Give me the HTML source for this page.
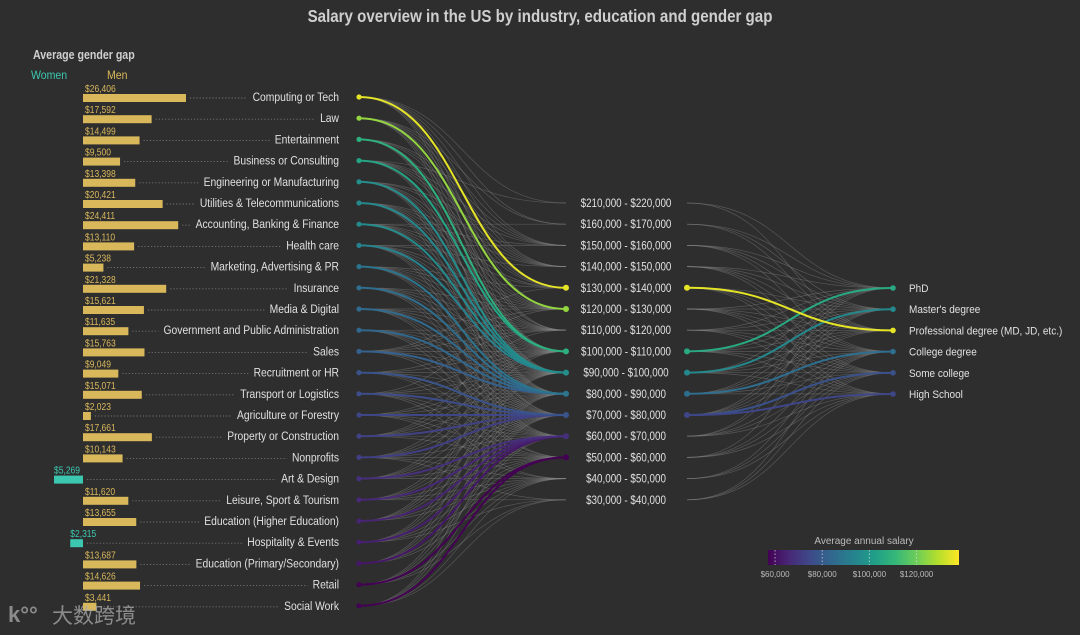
<!DOCTYPE html>
<html><head><meta charset="utf-8">
<style>
html,body{margin:0;padding:0;background:#2e2e2e;}
svg{display:block;}
text{font-family:"Liberation Sans",sans-serif;}
</style></head>
<body>
<svg id="chart" width="1080" height="635" viewBox="0 0 1080 635">
<rect width="1080" height="635" fill="#2e2e2e"/>
<text transform="translate(540,22) scale(0.84,1)" text-anchor="middle" font-size="18" font-weight="bold" fill="#cfcfcf">Salary overview in the US by industry, education and gender gap</text>
<text transform="translate(33,59) scale(0.85,1)" font-size="12.5" font-weight="bold" fill="#cfcfcf">Average gender gap</text>
<text transform="translate(31,79) scale(0.88,1)" font-size="12" fill="#3cc8b0">Women</text>
<text transform="translate(107,79) scale(0.88,1)" font-size="12" fill="#d9b85c">Men</text>
<g id="links"></g>
<g id="rows"></g>
<g id="legend">
<text x="864" y="544" text-anchor="middle" font-size="10" fill="#bbb">Average annual salary</text>
</g>
<g opacity="0.75">
<text x="8" y="622" font-size="22" font-weight="bold" fill="#aaa">k°°</text>
<text x="52" y="623" font-size="21" fill="#aaa" font-family="'Liberation Sans','Noto Sans CJK SC',sans-serif">大数跨境</text>
</g>
</svg>
<script>
const industries=["Computing or Tech","Law","Entertainment","Business or Consulting","Engineering or Manufacturing","Utilities & Telecommunications","Accounting, Banking & Finance","Health care","Marketing, Advertising & PR","Insurance","Media & Digital","Government and Public Administration","Sales","Recruitment or HR","Transport or Logistics","Agriculture or Forestry","Property or Construction","Nonprofits","Art & Design","Leisure, Sport & Tourism","Education (Higher Education)","Hospitality & Events","Education (Primary/Secondary)","Retail","Social Work"];
const genderGap=[26406,17592,14499,9500,13398,20421,24411,13110,5238,21328,15621,11635,15763,9049,15071,2023,17661,10143,-5269,11620,13655,-2315,13687,14626,3441];
const industrySalary=[135000,125000,108000,104000,97000,95000,96000,93000,88000,86000,85000,84000,82000,78000,76000,74000,73000,72000,68000,66000,65000,64000,62000,57000,55000];
const industryLinks=[[210,160,150,140,120,110,100],[160,150,140,130,110,100,90],[150,140,130,110,90,80],[210,150,140,130,120,90,80],[150,140,120,110,100,80,70],[140,130,120,110,100,80,70],[160,150,130,120,110,100,80],[150,140,120,110,100,80,70,60],[130,120,110,100,90,70,60],[120,110,100,90,70,60],[120,110,100,90,70,60,50],[110,100,90,70,60,50],[130,120,110,100,90,70,60],[110,100,90,80,60,50],[120,100,90,80,60,50,40],[100,90,80,60,50,40],[110,100,90,80,60,50],[100,90,80,60,50,40,30],[100,90,80,70,50,40],[90,80,70,60,50,40,30],[100,90,80,70,50,40],[90,80,70,60,50,40,30],[90,80,70,60,50,40],[80,70,60,50,40,30],[80,70,60,40,30]];
const buckets=[210,160,150,140,130,120,110,100,90,80,70,60,50,40,30];
const educations=["PhD","Master's degree","Professional degree (MD, JD, etc.)","College degree","Some college","High School"];
const eduSalary=[106000,95000,135000,86000,77000,74000];
const eduLinks=[[210,160,150,140,120,110,90,80,70,60],[160,150,140,130,120,110,100,80,70,60,50],[210,160,150,140,120,110,100,90,80,70],[150,140,130,120,110,100,90,70,60,50,40,30],[140,130,120,110,100,90,80,60,50,40,30],[130,120,110,100,90,80,60,50,40,30]];
const legendTicks=[60000,80000,100000,120000];

const NS="http://www.w3.org/2000/svg";
const svg=document.getElementById('chart');
const gL=document.getElementById('links'),gR=document.getElementById('rows'),gLeg=document.getElementById('legend');
function mk(t,a,p){const e=document.createElementNS(NS,t);for(const k in a)e.setAttribute(k,a[k]);(p||svg).appendChild(e);return e;}
const rowY=i=>97+i*21.2;
const bucketY=b=>203+buckets.indexOf(b)*21.2;
const eduY=i=>288+i*21.2;
const xInd=359,xBL=566,xBR=687,xEdu=893;
const cMin=57000,cMax=138000;
const vir=[[68,1,84],[72,40,120],[62,74,137],[49,104,142],[38,130,142],[31,158,137],[53,183,121],[109,205,89],[180,222,44],[253,231,37]];
function color(v){let t=Math.max(0,Math.min(1,(v-cMin)/(cMax-cMin)))*(vir.length-1);const i=Math.min(vir.length-2,Math.floor(t)),f=t-i;const c=vir[i].map((a,k)=>Math.round(a+(vir[i+1][k]-a)*f));return `rgb(${c})`;}
const bucketOf=v=>{const lb=Math.floor(v/10000)*10;return buckets.includes(lb)?lb:buckets.reduce((a,b)=>Math.abs(b-lb)<Math.abs(a-lb)?b:a);};
const curve=(x0,y0,x1,y1)=>{const m=(x0+x1)/2;return `M${x0},${y0}C${m},${y0} ${m},${y1} ${x1},${y1}`;};
const gapX=v=>v>=0?83+v*0.0039:83+v*0.0055;

industryLinks.forEach((arr,i)=>arr.forEach(b=>{const p=mk('path',{d:curve(xInd,rowY(i),xBL,bucketY(b)),fill:'none',stroke:'#8a8a8a','stroke-width':0.7,'stroke-opacity':0.45},gL);

}));
eduLinks.forEach((arr,i)=>arr.forEach(b=>{const p=mk('path',{d:curve(xBR,bucketY(b),xEdu,eduY(i)),fill:'none',stroke:'#8a8a8a','stroke-width':0.7,'stroke-opacity':0.45},gL);

}));
buckets.forEach(b=>{const y=bucketY(b);
const t=mk('text',{transform:`translate(626,${y+4}) scale(0.82,1)`,'text-anchor':'middle','font-size':12,fill:'#e0e0e0'},gR);
t.textContent='$'+b+',000 - $'+(b+10)+',000';

});
const bucketLeftColor={},bucketRightColor={};
for(let i=industries.length-1;i>=0;i--){const c=color(industrySalary[i]);const b=bucketOf(industrySalary[i]);
if(!(b in bucketLeftColor)||i<bucketLeftColor[b][1])bucketLeftColor[b]=[c,i];
const p=mk('path',{d:curve(xInd,rowY(i),xBL,bucketY(b)),fill:'none',stroke:c,'stroke-width':2},gL);

}
eduSalary.forEach((s,i)=>{const c=color(s),b=bucketOf(s);bucketRightColor[b]=c;
const p=mk('path',{d:curve(xBR,bucketY(b),xEdu,eduY(i)),fill:'none',stroke:c,'stroke-width':2},gL);

});
Object.keys(bucketLeftColor).forEach(b=>{const d=mk('circle',{cx:xBL,cy:bucketY(+b),r:3,fill:bucketLeftColor[b][0]},gR);});
Object.keys(bucketRightColor).forEach(b=>{const d=mk('circle',{cx:xBR,cy:bucketY(+b),r:3,fill:bucketRightColor[b]},gR);});
industries.forEach((n,i)=>{const y=rowY(i),g=genderGap[i],men=g>=0;
const x0=Math.min(83,gapX(g)),w=Math.abs(gapX(g)-83);
const bar=mk('rect',{x:x0,y:y-3,width:w,height:8,fill:men?'#d9b85c':'#3cc8b0'},gR);


const vt=mk('text',{transform:`translate(${men?85:x0},${y-5}) scale(0.85,1)`,'font-size':10,fill:men?'#d9b85c':'#3cc8b0'},gR);
vt.textContent='$'+Math.abs(g).toLocaleString('en-US');


const sc=0.86;
const lbl=mk('text',{transform:`translate(339,${y+4}) scale(${sc},1)`,'text-anchor':'end','font-size':12,fill:'#e0e0e0'},gR);
lbl.textContent=n;


const tw=lbl.getComputedTextLength()*sc;
const dl=mk('line',{x1:Math.max(83,gapX(g))+4,x2:339-tw-5,y1:y+1,y2:y+1,stroke:'#777','stroke-dasharray':'1.2,2','stroke-width':0.9},gR);


const d=mk('circle',{cx:xInd,cy:y,r:2.6,fill:color(industrySalary[i])},gR);

});
educations.forEach((n,i)=>{const y=eduY(i);
const d=mk('circle',{cx:xEdu,cy:y,r:2.8,fill:color(eduSalary[i])},gR);


const t=mk('text',{transform:`translate(909,${y+4}) scale(0.91,1)`,'font-size':11,fill:'#e0e0e0'},gR);
t.textContent=n;

});
const defs=mk('defs',{});const lg=mk('linearGradient',{id:'vg'},defs);
vir.forEach((c,k)=>mk('stop',{offset:k/(vir.length-1),'stop-color':`rgb(${c})`},lg));
const lx0=768,lx1=959,lxs=v=>lx0+(v-cMin)/(cMax-cMin)*(lx1-lx0);
const lr=mk('rect',{x:lx0,y:550,width:lx1-lx0,height:15,fill:'url(#vg)'},gLeg);


legendTicks.forEach(v=>{const x=lxs(v);
const tk=mk('line',{x1:x,x2:x,y1:550,y2:565,stroke:'#ddd','stroke-dasharray':'1.5,2','stroke-opacity':0.7},gLeg);


const t=mk('text',{x:x,y:577,'text-anchor':'middle','font-size':8,fill:'#bbb'},gLeg);
t.textContent='$'+v.toLocaleString('en-US');

});
</script>
</body></html>
